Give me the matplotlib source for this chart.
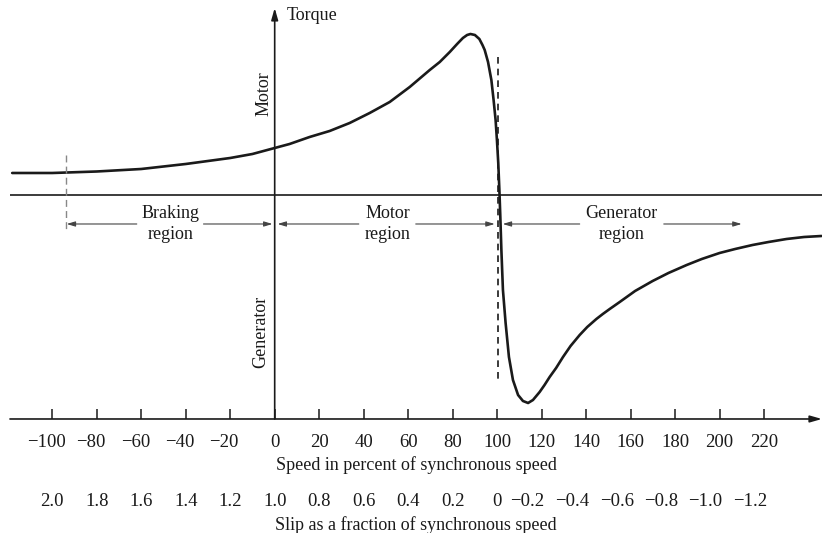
import numpy as np
import matplotlib
matplotlib.use('Agg')
import matplotlib.pyplot as plt
from matplotlib.transforms import ScaledTranslation

plt.rcParams['font.family'] = ['Liberation Serif', 'DejaVu Serif']

# Torque-speed curve (speed in % of synchronous, torque in arbitrary units)
speed = [-118, -100, -80, -60, -40, -20, -10, 0, 6.7, 15.7, 24.7, 33.7, 42.7, 51.7,
         60.7, 69.7, 74.2, 78.7, 82, 84.6, 86.5, 88, 90, 92, 93.4, 94.4, 95.9,
         97.4, 98.4, 99.3, 99.9, 100.5, 101.0, 101.4, 101.9, 102.6, 103.8, 105.3,
         107.1, 109.4, 111.6, 113.9, 116.1, 119.1, 121.3, 123.6, 126.5, 129.6,
         133, 137.1, 140.5, 144.6, 147.5, 150.6, 155.1, 162, 169.9, 177, 185.2,
         192, 200, 207, 214.8, 222, 230.1, 238, 245.8]
torque = [0.22, 0.22, 0.235, 0.26, 0.31, 0.37, 0.41, 0.47, 0.51, 0.58, 0.64, 0.72,
          0.82, 0.93, 1.08, 1.25, 1.33, 1.43, 1.51, 1.57, 1.60, 1.61, 1.60, 1.56,
          1.50, 1.45, 1.33, 1.15, 0.95, 0.75, 0.55, 0.32, 0.05, -0.20, -0.55,
          -0.95, -1.28, -1.62, -1.85, -2.00, -2.06, -2.08, -2.05, -1.97, -1.90,
          -1.82, -1.73, -1.62, -1.51, -1.40, -1.32, -1.24, -1.19, -1.14, -1.07,
          -0.96, -0.86, -0.78, -0.70, -0.64, -0.58, -0.54, -0.50, -0.47, -0.44,
          -0.42, -0.41]

speed_ticks = [-100, -80, -60, -40, -20, 0, 20, 40, 60, 80, 100, 120, 140, 160, 180, 200, 220]
slip_ticks = [2.0, 1.8, 1.6, 1.4, 1.2, 1.0, 0.8, 0.6, 0.4, 0.2, 0, -0.2, -0.4, -0.6, -0.8, -1.0, -1.2]

# region labels: (text, centre speed, left arrow [from, to], right arrow [from, to])
regions = [
    ('Braking\nregion', -46.7, (-62, -93.5), (-32, -1.0)),
    ('Motor\nregion', 50.8, (37.8, 1.3), (63.4, 98.9)),
    ('Generator\nregion', 156, (137.1, 102.5), (174.9, 209.9)),
]

xmin, xmax = -119, 246
ymin, ymax = -2.24, 1.87
ink = '#1a1a1a'
fs = 13
tick_fs = 13.5

fig = plt.figure(figsize=(8.24, 5.33), dpi=100)
ax = fig.add_axes([0.0121, 0.2139, 0.9854, 0.7711])
ax.set_xlim(xmin, xmax)
ax.set_ylim(ymin, ymax)
for sp in ax.spines.values():
    sp.set_visible(False)
ax.set_yticks([])

# curve
ax.plot(speed, torque, color=ink, lw=1.9, solid_capstyle='round', solid_joinstyle='round')

# zero-torque line
ax.axhline(0, color=ink, lw=1.2)

# speed axis and torque axis with arrows
ax.annotate('', xy=(xmax, ymin), xytext=(xmin, ymin), annotation_clip=False,
            arrowprops=dict(arrowstyle='-|>,head_length=0.7,head_width=0.2',
                            color=ink, lw=1.2, shrinkA=0, shrinkB=0))
ax.annotate('', xy=(0, ymax), xytext=(0, ymin), annotation_clip=False,
            arrowprops=dict(arrowstyle='-|>,head_length=0.7,head_width=0.2',
                            color=ink, lw=1.2, shrinkA=0, shrinkB=0))
ax.text(5.5, 1.79, 'Torque', fontsize=fs, va='center', ha='left', color=ink)

# dashed markers
ax.plot([-94, -94], [0.40, -0.35], color='#888888', lw=1.0, ls=(0, (5, 3)))
ax.plot([100.5, 100.5], [1.38, -1.88], color=ink, lw=1.2, ls=(0, (4, 3)))

# rotated quadrant labels
ax.text(-4.7, 1.01, 'Motor', rotation=90, fontsize=fs, ha='center', va='center', color=ink)
ax.text(-6.3, -1.37, 'Generator', rotation=90, fontsize=fs, ha='center', va='center', color=ink)

# region labels with arrows
arrow_y = -0.29
for label, xc, left, right in regions:
    ax.text(xc, arrow_y, label, fontsize=fs, ha='center', va='center',
            linespacing=1.25, color=ink)
    for a, b in (left, right):
        ax.annotate('', xy=(b, arrow_y), xytext=(a, arrow_y),
                    arrowprops=dict(arrowstyle='-|>,head_length=0.5,head_width=0.15',
                                    color='#444444', lw=0.8, shrinkA=0, shrinkB=0))

# speed ticks
ax.set_xticks(speed_ticks)
ax.set_xticklabels([str(v).replace('-', '\u2212') for v in speed_ticks], fontsize=tick_fs)
ax.tick_params(axis='x', direction='in', length=7, width=1.1, color=ink, pad=11,
               labelcolor=ink)
ax.set_xlabel('Speed in percent of synchronous speed', fontsize=fs, labelpad=3.5, color=ink)
# digits sit under the tick, minus sign hangs to the left
for v, lab in zip(speed_ticks, ax.get_xticklabels()):
    if v < 0:
        lab.set_transform(lab.get_transform() + ScaledTranslation(-0.06, 0, fig.dpi_scale_trans))

# slip axis
sec = ax.secondary_xaxis(-0.174, functions=(lambda v: 1 - np.asarray(v) / 100.0,
                                             lambda s: 100.0 * (1 - np.asarray(s))))
sec.set_xticks(slip_ticks)
sec.set_xticklabels([('0' if s == 0 else f'{s:.1f}').replace('-', '\u2212') for s in slip_ticks],
                    fontsize=tick_fs)
sec.tick_params(axis='x', length=0, pad=2, labelcolor=ink)
sec.spines['bottom'].set_visible(False)
sec.set_xlabel('Slip as a fraction of synchronous speed', fontsize=fs, labelpad=4, color=ink)
for s, lab in zip(slip_ticks, sec.get_xticklabels()):
    if s < 0:
        lab.set_ha('right')
        lab.set_transform(lab.get_transform() + ScaledTranslation(0.03, 0, fig.dpi_scale_trans))

fig.savefig('out.png', dpi=100)
plt.close(fig)
